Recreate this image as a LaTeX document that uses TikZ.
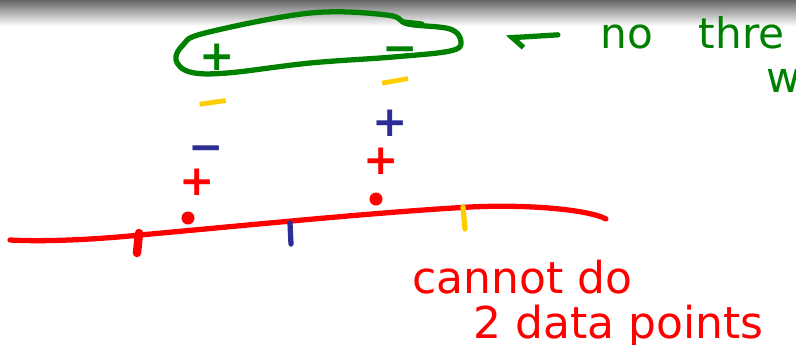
\documentclass[tikz,border=0pt]{standalone}
\usepackage{fontspec}
\setmainfont{DejaVu Sans}
\usetikzlibrary{arrows.meta}

\definecolor{penred}{RGB}{255,0,0}
\definecolor{pengreen}{RGB}{0,128,0}
\definecolor{penblue}{RGB}{45,45,150}
\definecolor{penyellow}{RGB}{255,204,0}

\tikzset{
  ink/.style={line width=1.5pt, line cap=round, line join=round},
  sign/.style={font=\fontsize{12}{12}\selectfont\bfseries, inner sep=0pt, text height=0.716em, text depth=0pt},
  minussign/.style={sign, text height=0.42em, yshift=-1.8pt},
  dot/.style={circle, fill=penred, inner sep=0pt, minimum size=1.3mm},
  hand/.style={font=\fontsize{12.5}{15}\selectfont, inner sep=0pt, anchor=base west}
}

\begin{document}
\begin{tikzpicture}[x=0.01cm, y=-0.01cm]
\useasboundingbox (0,0) rectangle (796,344);
\clip (0,0) rectangle (796,344);
\shade[top color=black!60, bottom color=white] (0,0) rectangle (796,26);

% number line
\draw[ink, penred] (10,240) .. controls (50,242) and (100,239) .. (140,235)
  .. controls (260,224) and (380,212) .. (470,207)
  .. controls (530,204) and (590,210) .. (606,219);
\draw[ink, penred, line width=2.4pt] (139,233) -- (137,253);
\draw[ink, penblue] (290,223) -- (291,244);
\draw[ink, penyellow] (463,207) -- (465,229);

% left point
\node[dot] (dotL) at (188,218) {};
\node[sign, penred] (plusL) at (197,183) {+};
\node[minussign, penblue] (minusL) at (206,148) {−};
\node[minussign, penyellow, rotate=8] (minusLy) at (214,102) {−};
\node[sign, pengreen] (plusLg) at (217,58) {+};

% right point
\node[dot] (dotR) at (376,199) {};
\node[sign, penred] (plusR) at (381,162) {+};
\node[sign, penblue] (plusRb) at (390,124) {+};
\node[minussign, penyellow, rotate=10] (minusRy) at (397,81) {−};
\node[minussign, pengreen] (minusRg) at (400,49) {−};

% green loop
\draw[ink, pengreen] plot[smooth cycle, tension=0.6] coordinates {(408,24) (450,29) (461,42) (450,51) (393,57) (310,63) (227,73) (190,72) (176,60) (183,45) (205,33) (310,13) (387,15)};
\draw[ink, pengreen] (404,22) -- (422,24);

\node[hand, pengreen, font=\fontsize{12}{14}\selectfont] (note) at (600,48) {no\hspace{13pt}thre};
\node[hand, pengreen, font=\fontsize{12}{14}\selectfont] (noteB) at (766,92) {w};
\coordinate (tip) at (506,38);
\draw[ink, pengreen, -{Straight Barb[left, length=3pt]}, shorten <=12pt] (note.west) -- (tip);

% red note
\node[hand, penred] (cannot) at (412,293) {cannot do};
\node[hand, penred] (points) at (473,338) {2 data points};
\end{tikzpicture}
\end{document}
